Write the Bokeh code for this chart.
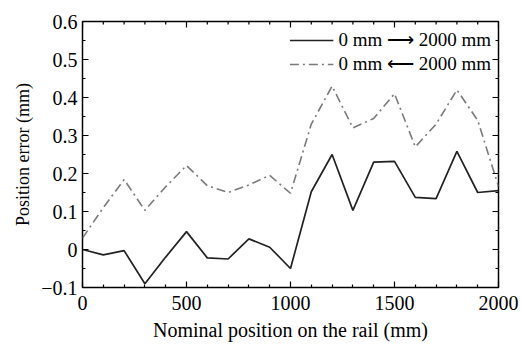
import math
from bokeh.plotting import figure
from bokeh.models import Range1d, FixedTicker, Legend, LegendItem
from bokeh.embed import file_html
from bokeh.resources import INLINE

positions = [0, 100, 200, 300, 400, 500, 600, 700, 800, 900, 1000,
             1100, 1200, 1300, 1400, 1500, 1600, 1700, 1800, 1900, 2000]
forward = [0.0, -0.014, -0.003, -0.090, -0.020, 0.047, -0.022, -0.025, 0.028, 0.006, -0.050,
           0.152, 0.250, 0.103, 0.230, 0.232, 0.137, 0.134, 0.258, 0.150, 0.155]
backward = [0.030, 0.110, 0.184, 0.103, 0.165, 0.221, 0.168, 0.150, 0.170, 0.195, 0.148,
            0.330, 0.430, 0.320, 0.345, 0.410, 0.270, 0.330, 0.420, 0.340, 0.166]
x_min, x_max = 0, 2000
y_min, y_max = -0.1, 0.6
x_ticks = [0, 500, 1000, 1500, 2000]
x_minor = [v for v in range(0, 2001, 100) if v not in x_ticks]
y_ticks = [-0.1, 0, 0.1, 0.2, 0.3, 0.4, 0.5, 0.6]
y_minor = [round(v + 0.05, 2) for v in y_ticks[:-1]]
y_tick_labels = {-0.1: "\u22120.1", 0: "0", 0.1: "0.1", 0.2: "0.2", 0.3: "0.3",
                 0.4: "0.4", 0.5: "0.5", 0.6: "0.6"}
label_fwd = "0 mm \u27f6 2000 mm"
label_bwd = "0 mm \u27f5 2000 mm"
x_title = "Nominal position on the rail (mm)"
y_title = "Position error (mm)"

FONT = "Liberation Serif"

p = figure(width=520, height=348, output_backend="svg", toolbar_location=None,
           x_range=Range1d(x_min, x_max), y_range=Range1d(y_min, y_max),
           min_border_left=82, min_border_right=22, min_border_top=21, min_border_bottom=61)
p.background_fill_color = "white"
p.border_fill_color = "white"
p.grid.visible = False
p.outline_line_color = "black"
p.outline_line_width = 1.5

r1 = p.line(positions, forward, line_color="#222222", line_width=1.7)
r2 = p.line(positions, backward, line_color="#7a7a7a", line_width=1.6, line_dash="9 4 2 4")

# inward ticks on the top and right edges (clipped to the frame)
p.scatter(x_ticks, [y_max] * len(x_ticks), marker="dash", angle=math.pi / 2, size=12,
          line_color="black", line_width=1.2)
p.scatter(x_minor, [y_max] * len(x_minor), marker="dash", angle=math.pi / 2, size=6,
          line_color="black", line_width=1.2)
p.scatter([x_max] * len(y_ticks), y_ticks, marker="dash", size=12,
          line_color="black", line_width=1.2)
p.scatter([x_max] * len(y_minor), y_minor, marker="dash", size=6,
          line_color="black", line_width=1.2)

p.xaxis.ticker = FixedTicker(ticks=x_ticks, minor_ticks=x_minor)
p.yaxis.ticker = FixedTicker(ticks=y_ticks, minor_ticks=y_minor)
p.yaxis.major_label_overrides = y_tick_labels
for ax in (p.xaxis[0], p.yaxis[0]):
    ax.axis_line_color = None
    ax.major_tick_in = 6
    ax.major_tick_out = 0
    ax.minor_tick_in = 3
    ax.minor_tick_out = 0
    ax.major_tick_line_color = "black"
    ax.minor_tick_line_color = "black"
    ax.major_tick_line_width = 1.2
    ax.minor_tick_line_width = 1.2
    ax.major_label_text_font = FONT
    ax.major_label_text_font_size = "20px"
    ax.major_label_text_color = "black"
    ax.axis_label_text_font = FONT
    ax.axis_label_text_font_style = "normal"
    ax.axis_label_text_color = "black"
p.xaxis.major_label_standoff = 8
p.yaxis.major_label_standoff = 5
p.xaxis.axis_label = x_title
p.yaxis.axis_label = y_title
p.xaxis.axis_label_text_font_size = "20px"
p.yaxis.axis_label_text_font_size = "18px"
p.xaxis.axis_label_standoff = 6
p.yaxis.axis_label_standoff = 5

legend = Legend(items=[LegendItem(label=label_fwd, renderers=[r1]),
                       LegendItem(label=label_bwd, renderers=[r2])],
                location="top_right")
legend.label_text_font = FONT
legend.label_text_font_size = "19px"
legend.label_text_color = "black"
legend.border_line_color = None
legend.background_fill_alpha = 0
legend.glyph_width = 44
legend.glyph_height = 22
legend.label_height = 22
legend.label_standoff = 5
legend.spacing = 1
legend.padding = 2
legend.margin = 7
p.add_layout(legend)

open("out.html", "w").write(file_html(p, INLINE))
